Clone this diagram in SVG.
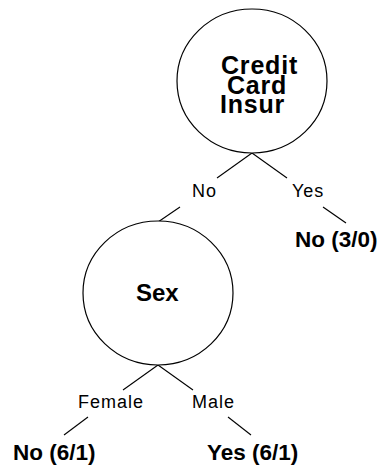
<svg xmlns="http://www.w3.org/2000/svg" width="387" height="468" viewBox="0 0 387 468">
<style>
.node{fill:#fff;stroke:#000;stroke-width:1.2}
.edge{stroke:#000;stroke-width:1.1;fill:none}
.b{font-family:"Liberation Sans",Arial,sans-serif;font-weight:bold;fill:#000}
.t{font-size:25px;letter-spacing:0.8px}
.lbl{font-family:"Liberation Sans",Arial,sans-serif;font-size:18px;letter-spacing:1px;fill:#000}
</style>
<rect width="387" height="468" fill="#fff"/>
<g id="connectors">
<line class="edge" x1="252" y1="153" x2="217" y2="178"/>
<line class="edge" x1="252" y1="153" x2="287" y2="178"/>
<line class="edge" x1="180" y1="207" x2="158" y2="222"/>
<line class="edge" x1="323" y1="207" x2="346" y2="223"/>
<line class="edge" x1="158" y1="365" x2="123" y2="390"/>
<line class="edge" x1="158" y1="365" x2="193" y2="390"/>
<line class="edge" x1="88" y1="417" x2="64" y2="435"/>
<line class="edge" x1="228" y1="417" x2="251" y2="435"/>
</g>
<g id="node-credit">
<ellipse class="node" cx="252" cy="81" rx="75" ry="72"/>
<text class="b t" x="221" y="74">Credit</text>
<text class="b t" x="227" y="94">Card</text>
<text class="b t" x="220" y="113">Insur</text>
</g>
<g id="label-no"><text class="lbl" x="192" y="197">No</text></g>
<g id="label-yes"><text class="lbl" x="292" y="197">Yes</text></g>
<g id="leaf-no-3-0"><text class="b" font-size="22.5" x="295" y="247">No (3/0)</text></g>
<g id="node-sex">
<ellipse class="node" cx="158" cy="293" rx="75" ry="72"/>
<text class="b" font-size="24" x="136" y="301">Sex</text>
</g>
<g id="label-female"><text class="lbl" x="78" y="408">Female</text></g>
<g id="label-male"><text class="lbl" x="192" y="408">Male</text></g>
<g id="leaf-no-6-1"><text class="b" font-size="22.5" x="13" y="460">No (6/1)</text></g>
<g id="leaf-yes-6-1"><text class="b" font-size="22.5" x="207" y="460">Yes (6/1)</text></g>
</svg>
